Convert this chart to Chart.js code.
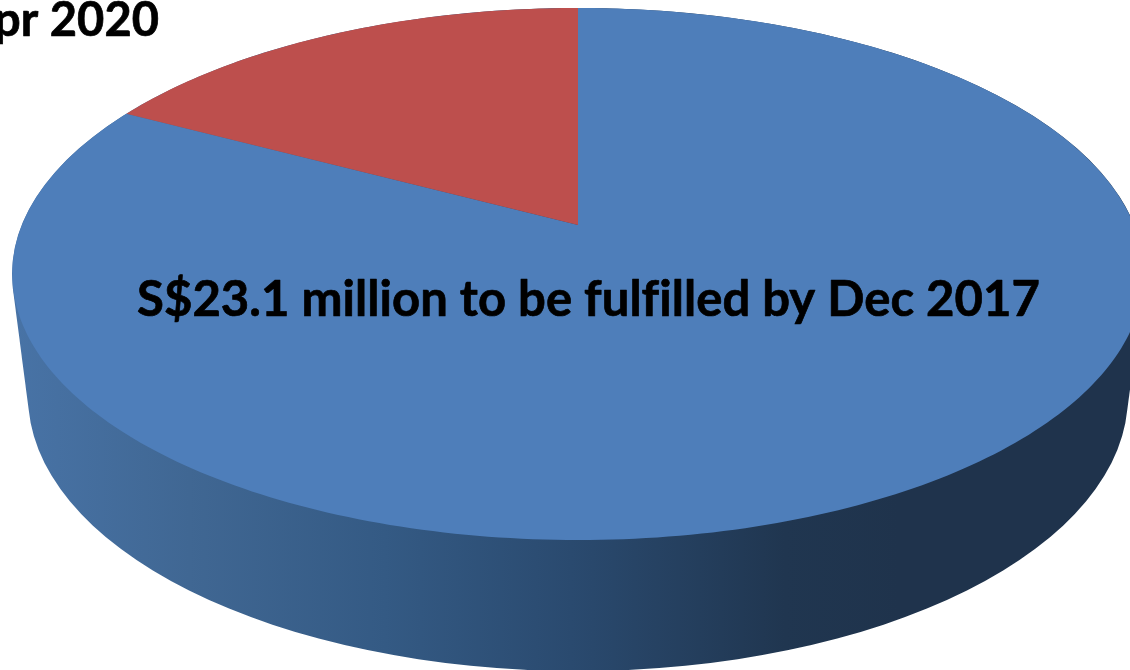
<!DOCTYPE html>
<html lang="en">
<head>
    <meta charset="utf-8" />
    <title>Order book fulfilment</title>
    <script src="https://cdn.jsdelivr.net/npm/chart.js"></script>
    <style>
        html, body { margin: 0; background: #fff; overflow: hidden; }
        canvas { display: block; }
    </style>
</head>
<body>
    <canvas id="orderChart" width="1130" height="670"></canvas>
    <script>
        // Order book, S$ million
        const categories = ['Dec 2017', 'Apr 2020'];
        const orderValues = [23.1, 4.8];
        const sliceColors = ['#4e7eba', '#bd4f4d'];
        const mainLabel = 'S$23.1 million to be fulfilled by Dec 2017';
        const cornerLabel = 'pr 2020';

        // Tilted disc: perspective of the top face, and the two rims of the side wall
        const disc = { x: 578, y: 225, a: 556, b: 257, p: 0.1842 };
        const topRim = { y: 274, rx: 566, ry: 266 };
        const bottomRim = { y: 396, rx: 550, ry: 275 };

        function project(angle) {
            const u = Math.cos(angle);
            const v = -Math.sin(angle);
            const w = 1 + disc.p * v;
            return [disc.x + disc.a * u / w, disc.y - disc.b * v / w];
        }

        function boldText(ctx, text, x, y) {
            ctx.fillText(text, x, y);
            ctx.strokeText(text, x, y);
        }

        const pie3d = {
            id: 'pie3d',
            beforeDatasetDraw(chart, args) {
                const ctx = chart.ctx;
                const arcs = args.meta.data;

                // side wall, swept from the top rim down to the bottom rim
                const wall = ctx.createLinearGradient(12, 0, 900, 0);
                wall.addColorStop(0, '#4873a6');
                wall.addColorStop(0.2, '#406793');
                wall.addColorStop(0.42, '#345a84');
                wall.addColorStop(0.63, '#2a4a6f');
                wall.addColorStop(0.87, '#203650');
                wall.addColorStop(1, '#1f334c');
                ctx.beginPath();
                for (let i = 0; i <= 240; i++) {
                    const t = i / 240;
                    const y = topRim.y + (bottomRim.y - topRim.y) * t;
                    const rx = topRim.rx + (bottomRim.rx - topRim.rx) * t;
                    const ry = topRim.ry + (bottomRim.ry - topRim.ry) * t;
                    ctx.moveTo(disc.x + rx, y);
                    ctx.ellipse(disc.x, y, rx, ry, 0, 0, Math.PI * 2);
                }
                ctx.fillStyle = wall;
                ctx.fill();

                // top face: the slice angles come from the pie controller
                arcs.forEach((arc, i) => {
                    const from = arc.startAngle;
                    const to = arc.endAngle;
                    const steps = Math.ceil((to - from) * 60);
                    ctx.beginPath();
                    ctx.moveTo(disc.x, disc.y);
                    for (let s = 0; s <= steps; s++) {
                        const pt = project(from + (to - from) * s / steps);
                        ctx.lineTo(pt[0], pt[1]);
                    }
                    ctx.closePath();
                    ctx.fillStyle = sliceColors[i];
                    ctx.fill();
                });
                return false;
            },
            afterDraw(chart) {
                const ctx = chart.ctx;
                ctx.fillStyle = '#000';
                ctx.strokeStyle = '#000';
                ctx.lineWidth = 0.7;
                ctx.lineJoin = 'round';
                ctx.textBaseline = 'alphabetic';
                // letter spacing keeps "fi" as two separate glyphs
                ctx.letterSpacing = '0.05px';
                ctx.font = 'bold 49px Lato';
                ctx.textAlign = 'left';
                boldText(ctx, mainLabel, 137, 316);
                ctx.font = 'bold 47px Lato';
                ctx.textAlign = 'right';
                boldText(ctx, cornerLabel, 159, 36);
            }
        };

        new Chart(document.getElementById('orderChart'), {
            type: 'pie',
            data: {
                labels: categories,
                datasets: [{ data: orderValues, backgroundColor: sliceColors, borderWidth: 0 }]
            },
            options: {
                responsive: false,
                animation: false,
                plugins: { legend: { display: false }, tooltip: { enabled: false } }
            },
            plugins: [pie3d]
        });
    </script>
</body>
</html>
